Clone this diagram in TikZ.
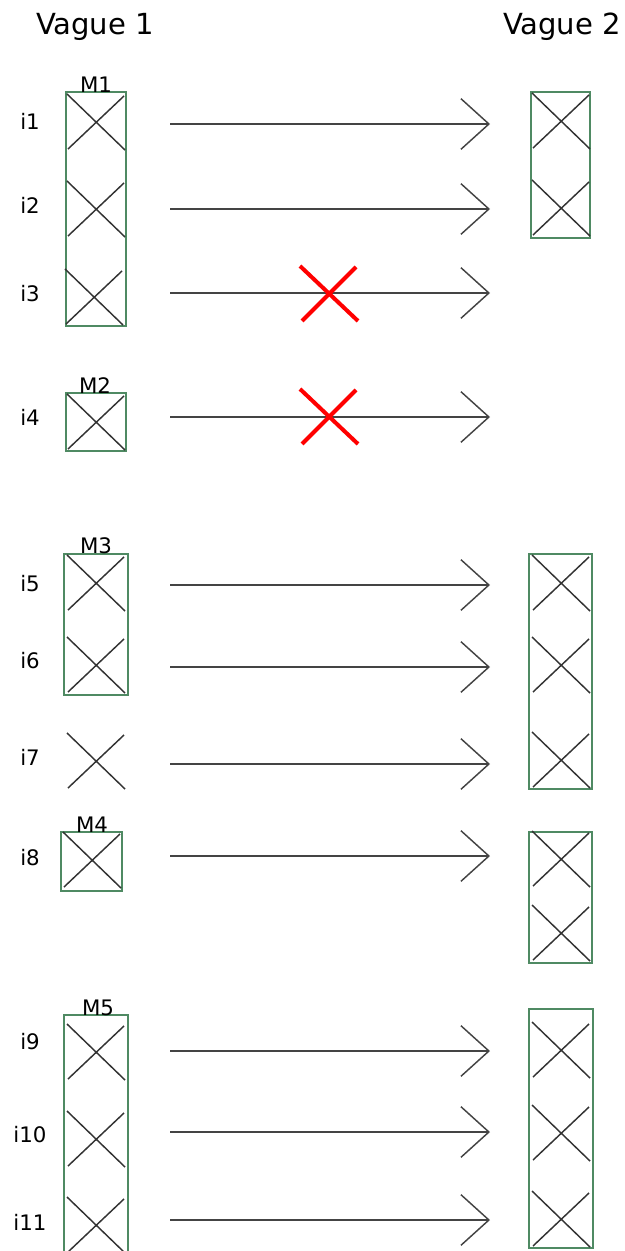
\documentclass[tikz,border=0pt]{standalone}
\usepackage{fontspec}
\setmainfont{DejaVu Sans}
\usetikzlibrary{arrows.meta}
\definecolor{boxgreen}{HTML}{4F8A63}
\definecolor{xgrey}{HTML}{333333}
\definecolor{agrey}{HTML}{444444}
\begin{document}
\begin{tikzpicture}[x=0.75pt,y=-0.75pt,
  title/.style={font=\fontsize{21.8pt}{24pt}\selectfont, inner sep=0},
  lab/.style={font=\fontsize{16pt}{19pt}\selectfont, inner sep=0},
  mbox/.style={draw=boxgreen, line width=1.1pt, inner sep=0, minimum width=0.75*60pt},
  arr/.style={draw=agrey, line width=1pt, -{Straight Barb[length=21pt,width=38pt,line width=1.1pt]}},
  xmark/.pic={\draw[xgrey, line width=1.1pt] (-29,-28) -- (29,28) (-28,27) -- (28,-26);},
  redx/.pic={\draw[red, line width=3pt] (-29,-27) -- (29,28) (-27,28) -- (27,-26);}
]
\useasboundingbox (0,0) rectangle (624,1251);

% titles
\node[title] (v1) at (95,27) {Vague 1};
\node[title] (v2) at (562,27) {Vague 2};

% left boxes
\node[mbox, minimum height=0.75*234pt] (M1) at (96,209) {};
\node[lab, anchor=south] (M1l) at (96,93) {M1};
\node[mbox, minimum height=0.75*58pt] (M2) at (96,422) {};
\node[lab, anchor=south] (M2l) at (95,394) {M2};
\node[mbox, minimum width=0.75*64pt, minimum height=0.75*141pt] (M3) at (96,624.5) {};
\node[lab, anchor=south] (M3l) at (96,554) {M3};
\node[mbox, minimum width=0.75*61pt, minimum height=0.75*59pt] (M4) at (91.5,861.5) {};
\node[lab, anchor=south] (M4l) at (92,833) {M4};
\node[mbox, minimum width=0.75*64pt, minimum height=0.75*250pt] (M5) at (96,1140) {};
\node[lab, anchor=south] (M5l) at (98,1016) {M5};

% right boxes
\node[mbox, minimum width=0.75*59pt, minimum height=0.75*146pt] (R1) at (560.5,165) {};
\node[mbox, minimum width=0.75*63pt, minimum height=0.75*235pt] (R2) at (560.5,671.5) {};
\node[mbox, minimum width=0.75*63pt, minimum height=0.75*131pt] (R3) at (560.5,897.5) {};
\node[mbox, minimum width=0.75*64pt, minimum height=0.75*239pt] (R4) at (561,1128.5) {};

% crosses left
\pic at (96,122) {xmark};
\pic at (96,209) {xmark};
\pic at (94,297) {xmark};
\pic at (96,422) {xmark};
\pic at (96,583) {xmark};
\pic at (96,665) {xmark};
\pic at (96,761) {xmark};
\pic at (92,860) {xmark};
\pic at (96,1052) {xmark};
\pic at (96,1139) {xmark};
\pic at (96,1225) {xmark};

% crosses right
\pic at (561,121) {xmark};
\pic at (561,208) {xmark};
\pic at (561,583) {xmark};
\pic at (561,665) {xmark};
\pic at (561,760) {xmark};
\pic at (561,859) {xmark};
\pic at (561,933) {xmark};
\pic at (561,1050) {xmark};
\pic at (561,1133) {xmark};
\pic at (561,1219) {xmark};

% item labels
\node[lab] (i1) at (30,121) {i1};
\node[lab] (i2) at (30,205) {i2};
\node[lab] (i3) at (30,294) {i3};
\node[lab] (i4) at (30,417) {i4};
\node[lab] (i5) at (30,584) {i5};
\node[lab] (i6) at (30,661) {i6};
\node[lab] (i7) at (30,757) {i7};
\node[lab] (i8) at (30,858) {i8};
\node[lab] (i9) at (30,1042) {i9};
\node[lab] (i10) at (30,1135) {i10};
\node[lab] (i11) at (30,1222) {i11};

% arrows
\foreach \n/\y in {1/124,2/209,3/293,4/417,5/585,6/667,7/764,8/856,9/1051,10/1132,11/1220}{
  \coordinate (s\n) at (170,\y);
  \coordinate (e\n) at (490,\y);
  \draw[arr] (s\n) -- (e\n);
}

% red crosses
\pic at (329,293) {redx};
\pic at (329,416) {redx};
\end{tikzpicture}
\end{document}
